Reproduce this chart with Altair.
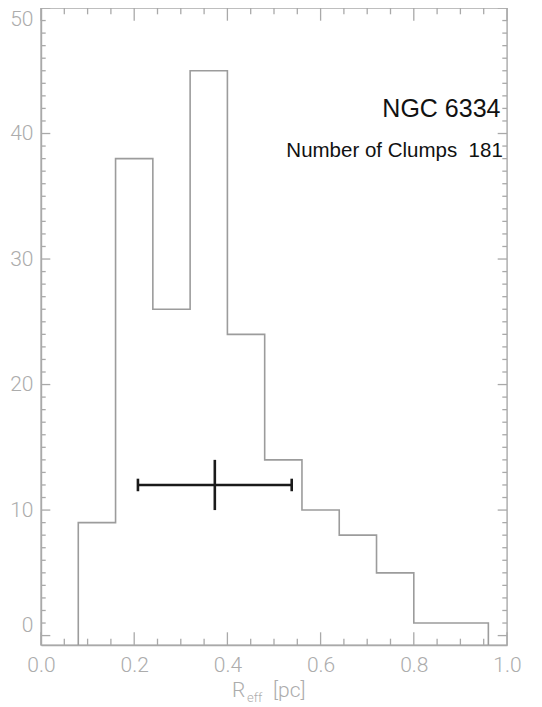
import altair as alt
import pandas as pd

# ---- data ----
bin_edges = [0.08, 0.16, 0.24, 0.32, 0.40, 0.48, 0.56, 0.64, 0.72, 0.80, 0.88, 0.96]
counts = [9, 38, 26, 45, 24, 14, 10, 8, 5, 1, 1]

x_major = [0.0, 0.2, 0.4, 0.6, 0.8, 1.0]
x_minor = [0.05, 0.10, 0.15, 0.25, 0.30, 0.35, 0.45, 0.50, 0.55,
           0.65, 0.70, 0.75, 0.85, 0.90, 0.95]
y_major = [0, 10, 20, 30, 40, 50]
y_minor = [v for v in range(1, 50) if v % 10 != 0]

err_x = [0.373]
err_x_lo = [0.208]
err_x_hi = [0.538]
err_y = [12.0]
err_y_lo = [10.0]
err_y_hi = [14.0]
cap_half = 0.5

title_text = "NGC 6334"
clumps_text = "Number of Clumps\u00a0\u00a0181"

X_DOMAIN = [0.0, 1.0]
Y_DOMAIN = [-0.75, 50.0]

W, H = 466, 637
GRAY_AX = "#a9a9a9"
GRAY_LBL = "#acacac"
GRAY_HIST = "#9c9c9c"

xscale = alt.Scale(domain=X_DOMAIN, nice=False, zero=False)
yscale = alt.Scale(domain=Y_DOMAIN, nice=False, zero=False)
xaxis = alt.Axis(values=x_major, format=".1f", title=None, ticks=False, tickSize=0,
                 grid=False, labelFlush=False, labelPadding=9, labelOverlap=False)
yaxis = alt.Axis(values=y_major, format="d", title=None, ticks=False, tickSize=0,
                 grid=False, labelFlush=12, labelPadding=8, labelOverlap=False)


def X(f):
    return alt.X(f, type="quantitative", scale=xscale, axis=xaxis)


def Y(f):
    return alt.Y(f, type="quantitative", scale=yscale, axis=yaxis)


# ---- histogram outline ----
ymin = Y_DOMAIN[0]
hx, hy = [bin_edges[0]], [ymin]
for i, c in enumerate(counts):
    hx += [bin_edges[i], bin_edges[i + 1]]
    hy += [c, c]
hx.append(bin_edges[-1])
hy.append(ymin)
hist_df = pd.DataFrame({"x": hx, "y": hy, "o": list(range(len(hx)))})

hist = alt.Chart(hist_df).mark_line(color=GRAY_HIST, strokeWidth=1.6, clip=True).encode(
    x=X("x"), y=Y("y"), order="o:Q"
)

# ---- inward ticks on all four sides ----
xmaj_df = pd.DataFrame({"t": x_major})
xmin_df = pd.DataFrame({"t": x_minor})
ymaj_df = pd.DataFrame({"t": y_major})
ymin_df = pd.DataFrame({"t": y_minor})
XT_MAJ, XT_MIN = 12.7, 6.3
YT_MAJ, YT_MIN = 9.3, 4.7
tick_style = dict(color=GRAY_AX, strokeWidth=1.3)

ticks = [
    alt.Chart(xmaj_df).mark_rule(**tick_style).encode(x=X("t"), y=alt.value(H), y2=alt.value(H - XT_MAJ)),
    alt.Chart(xmaj_df).mark_rule(**tick_style).encode(x=X("t"), y=alt.value(0), y2=alt.value(XT_MAJ)),
    alt.Chart(xmin_df).mark_rule(**tick_style).encode(x=X("t"), y=alt.value(H), y2=alt.value(H - XT_MIN)),
    alt.Chart(xmin_df).mark_rule(**tick_style).encode(x=X("t"), y=alt.value(0), y2=alt.value(XT_MIN)),
    alt.Chart(ymaj_df).mark_rule(**tick_style).encode(y=Y("t"), x=alt.value(0), x2=alt.value(YT_MAJ)),
    alt.Chart(ymaj_df).mark_rule(**tick_style).encode(y=Y("t"), x=alt.value(W), x2=alt.value(W - YT_MAJ)),
    alt.Chart(ymin_df).mark_rule(**tick_style).encode(y=Y("t"), x=alt.value(0), x2=alt.value(YT_MIN)),
    alt.Chart(ymin_df).mark_rule(**tick_style).encode(y=Y("t"), x=alt.value(W), x2=alt.value(W - YT_MIN)),
]

# ---- error cross ----
err_df = pd.DataFrame({
    "x": err_x, "xlo": err_x_lo, "xhi": err_x_hi,
    "y": err_y, "ylo": err_y_lo, "yhi": err_y_hi,
    "clo": [v - cap_half for v in err_y], "chi": [v + cap_half for v in err_y],
})
err_style = dict(color="#1a1a1a", strokeWidth=2.6)
err_h = alt.Chart(err_df).mark_rule(**err_style).encode(x=X("xlo"), x2="xhi", y=Y("y"))
err_v = alt.Chart(err_df).mark_rule(**err_style).encode(x=X("x"), y=Y("ylo"), y2="yhi")
cap_l = alt.Chart(err_df).mark_rule(**err_style).encode(x=X("xlo"), y=Y("clo"), y2="chi")
cap_r = alt.Chart(err_df).mark_rule(**err_style).encode(x=X("xhi"), y=Y("clo"), y2="chi")

# ---- annotations ----
ann_df = pd.DataFrame({"x": [0.986, 0.991], "y": [41.3, 38.1], "t": [title_text, clumps_text]})
ann1 = alt.Chart(ann_df.iloc[[0]]).mark_text(
    align="right", baseline="alphabetic", font="Liberation Sans", fontSize=25, color="#111111"
).encode(x=X("x"), y=Y("y"), text="t:N")
ann2 = alt.Chart(ann_df.iloc[[1]]).mark_text(
    align="right", baseline="alphabetic", font="Liberation Sans", fontSize=20.5, color="#111111"
).encode(x=X("x"), y=Y("y"), text="t:N")

# ---- x-axis title with subscript ----
lbl_style = dict(font="Roboto", fontWeight=300, color=GRAY_LBL, baseline="alphabetic", align="left")
t_R = alt.Chart(pd.DataFrame({"t": ["R"]})).mark_text(fontSize=21, **lbl_style).encode(
    text="t:N", x=alt.value(191), y=alt.value(689))
t_eff = alt.Chart(pd.DataFrame({"t": ["eff"]})).mark_text(fontSize=13, **lbl_style).encode(
    text="t:N", x=alt.value(206), y=alt.value(694))
t_pc = alt.Chart(pd.DataFrame({"t": ["[pc]"]})).mark_text(fontSize=21, **lbl_style).encode(
    text="t:N", x=alt.value(232), y=alt.value(689))

chart = alt.layer(
    hist, *ticks, err_h, err_v, cap_l, cap_r, ann1, ann2, t_R, t_eff, t_pc
).properties(
    width=W, height=H,
    autosize=alt.AutoSizeParams(type="none"),
    padding={"left": 33, "top": 0, "right": 27, "bottom": 62},
).configure_view(
    stroke=GRAY_AX, strokeWidth=1.4
).configure_axis(
    labelFont="Roboto", labelFontWeight=300, labelFontSize=21, labelColor=GRAY_LBL,
    domainColor=GRAY_AX, domainWidth=1.4
)

chart.save("out.html", embed_options={"renderer": "svg", "actions": False})
